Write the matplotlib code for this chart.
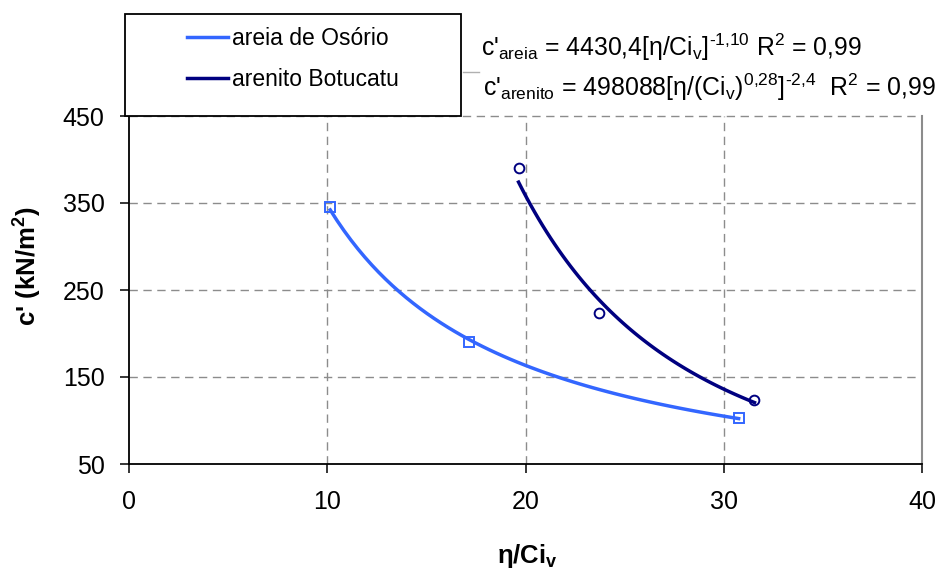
import numpy as np
import matplotlib
matplotlib.use("Agg")
import matplotlib.pyplot as plt
from matplotlib.patches import Rectangle
from matplotlib.lines import Line2D

plt.rcParams['font.family'] = ['Liberation Sans', 'DejaVu Sans']
plt.rcParams['mathtext.fontset'] = 'custom'
plt.rcParams['mathtext.rm'] = 'Liberation Sans'
plt.rcParams['mathtext.it'] = 'Liberation Sans:italic'
plt.rcParams['mathtext.bf'] = 'Liberation Sans:bold'

# measured points (eta/Civ, c' in kN/m2)
areia_x = [10.15, 17.15, 30.75]
areia_c = [345, 190, 103]
arenito_x = [19.65, 23.7, 31.55]
arenito_c = [390, 223, 124]

labels = ['areia de Osório', 'arenito Botucatu']
colors = ['#3366FF', '#000080']
xticks = [0, 10, 20, 30, 40]
yticks = [50, 150, 250, 350, 450]


def power_trend(x, y):
    # power-law trendline, as the spreadsheet fits it (linear in log-log)
    b, lna = np.polyfit(np.log(x), np.log(y), 1)
    xs = np.linspace(min(x), max(x), 60)
    return xs, np.exp(lna) * xs ** b


fig = plt.figure(figsize=(9.4, 5.74), dpi=100)
ax = fig.add_axes([129 / 940, 1 - 464 / 574, (922 - 129) / 940, (464 - 116) / 574])

for x, y, col, mk in [(areia_x, areia_c, colors[0], 's'), (arenito_x, arenito_c, colors[1], 'o')]:
    xs, ys = power_trend(x, y)
    ax.plot(xs, ys, color=col, lw=2.5, zorder=3)
    ax.plot(x, y, linestyle='none', marker=mk, markersize=7, markerfacecolor='none',
            markeredgecolor=col, markeredgewidth=1.4, zorder=4)

ax.set_xlim(0, 40)
ax.set_ylim(50, 450)
ax.set_xticks(xticks)
ax.set_yticks(yticks)
ax.tick_params(axis='both', direction='out', length=6.5, width=1.1, labelsize=18, colors='black')
ax.tick_params(axis='x', pad=12)
ax.tick_params(axis='y', pad=11)

for v in [10, 20, 30]:
    ax.axvline(v, color='#8c8c8c', lw=1.0, dashes=(6, 4), zorder=1)
for v in [150, 250, 350, 450]:
    ax.axhline(v, color='#8c8c8c', lw=1.0, dashes=(6, 4), zorder=1, clip_on=False)

ax.spines['top'].set_visible(False)
ax.spines['right'].set_color('#8c8c8c')
ax.spines['right'].set_linewidth(1.5)
ax.spines['left'].set_linewidth(1.3)
ax.spines['bottom'].set_linewidth(1.3)

fig.text(28 / 940, 1 - 266 / 574, "c' (kN/m$^{\\mathbf{2}}$)", rotation=90,
         ha='center', va='center', fontsize=18.5, fontweight='bold')
fig.text(527 / 940, 1 - 556 / 574, "η/Ci$_{\\mathbf{v}}$", ha='center', va='center',
         fontsize=18.5, fontweight='bold')

# legend box
fig.patches.append(Rectangle((125 / 940, 1 - 116 / 574), (461 - 125) / 940, (116 - 14) / 574,
                             transform=fig.transFigure, fill=True, facecolor='white',
                             edgecolor='black', lw=1.3, zorder=5))
handles = [Line2D([], [], color=c, lw=2.5) for c in colors]
leg = fig.legend(handles, labels, loc='center left', frameon=False, fontsize=16.5,
                 bbox_to_anchor=(178 / 940, 1 - 59 / 574), handlelength=1.8,
                 handletextpad=0.15, labelspacing=0.8, borderaxespad=0)
leg.set_zorder(6)

# small grey stub left of the second equation
fig.add_artist(Line2D([463 / 940, 479 / 940], [1 - 72 / 574, 1 - 72 / 574],
                      transform=fig.transFigure, color='#b0b0b0', lw=1.0))

fig.text(481 / 940, 1 - 47 / 574,
         "c'$_{\\mathrm{areia}}$ = 4430,4[η/Ci$_{\\mathrm{v}}$]$^{\\text{-1,10}}$ R$^{2}$ = 0,99",
         ha='left', va='center', fontsize=17.8)
fig.text(483 / 940, 1 - 87 / 574,
         "c'$_{\\mathrm{arenito}}$ = 498088[η/(Ci$_{\\mathrm{v}}$)$^{\\text{0,28}}$]$^{\\text{-2,4}}$  R$^{2}$ = 0,99",
         ha='left', va='center', fontsize=17.9)

fig.savefig('out.png', dpi=100)
